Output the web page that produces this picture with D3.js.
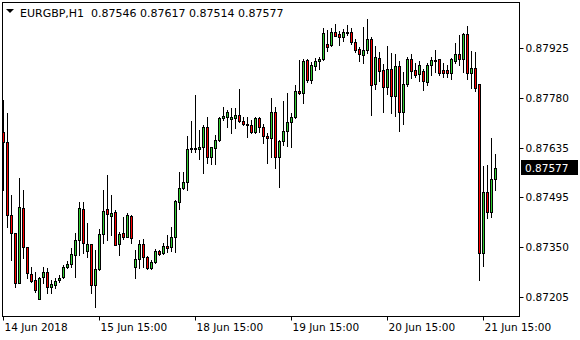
<!DOCTYPE html>
<html>
<head>
<meta charset="utf-8">
<script src="https://cdn.jsdelivr.net/npm/d3@7"></script>
<style>
  html, body { margin: 0; padding: 0; background: #fff; }
  svg { display: block; }
  text { font-family: "DejaVu Sans", Verdana, sans-serif; font-size: 10.5px; fill: #000; }
</style>
</head>
<body>
<div id="chart"></div>
<script>
var symbol = "EURGBP,H1";

// hourly bars, 14 Jun 2018 15:00 -> 21 Jun 2018 18:00
var open = [0.87681,0.87652,0.87442,0.87390,0.87245,0.87462,0.87349,0.87271,0.87254,0.87199,
  0.87263,0.87277,0.87234,0.87240,0.87254,0.87263,0.87292,0.87300,0.87326,0.87369,
  0.87459,0.87338,0.87358,0.87240,0.87286,0.87387,0.87459,0.87439,0.87450,0.87358,
  0.87390,0.87378,0.87439,0.87292,0.87315,0.87358,0.87320,0.87289,0.87306,0.87338,
  0.87332,0.87352,0.87349,0.87378,0.87479,0.87520,0.87537,0.87632,0.87635,0.87632,
  0.87638,0.87696,0.87609,0.87635,0.87658,0.87722,0.87724,0.87719,0.87722,0.87730,
  0.87713,0.87704,0.87701,0.87681,0.87722,0.87696,0.87670,0.87664,0.87739,0.87609,
  0.87655,0.87684,0.87710,0.87724,0.87799,0.87794,0.87889,0.87831,0.87872,0.87886,
  0.87892,0.87935,0.87932,0.87970,0.87964,0.87955,0.87970,0.87970,0.87941,0.87921,
  0.87903,0.87918,0.87950,0.87820,0.87895,0.87860,0.87811,0.87863,0.87785,0.87872,
  0.87739,0.87820,0.87892,0.87860,0.87849,0.87857,0.87825,0.87874,0.87889,0.87892,
  0.87860,0.87860,0.87851,0.87886,0.87906,0.87892,0.87964,0.87851,0.87866,0.87820,
  0.87332,0.87508,0.87450,0.87546];
var high = [0.87773,0.87736,0.87499,0.87390,0.87548,0.87514,0.87349,0.87292,0.87277,0.87263,
  0.87292,0.87289,0.87254,0.87260,0.87269,0.87297,0.87309,0.87346,0.87390,0.87479,
  0.87479,0.87419,0.87358,0.87341,0.87401,0.87514,0.87557,0.87499,0.87456,0.87393,
  0.87436,0.87447,0.87442,0.87341,0.87369,0.87372,0.87323,0.87312,0.87344,0.87341,
  0.87361,0.87384,0.87407,0.87485,0.87566,0.87566,0.87670,0.87713,0.87788,0.87687,
  0.87701,0.87724,0.87638,0.87673,0.87724,0.87753,0.87745,0.87750,0.87750,0.87805,
  0.87724,0.87724,0.87716,0.87724,0.87724,0.87704,0.87678,0.87779,0.87753,0.87658,
  0.87771,0.87794,0.87736,0.87817,0.87889,0.87892,0.87892,0.87883,0.87895,0.87898,
  0.87981,0.87976,0.87981,0.87993,0.87973,0.87978,0.87990,0.87981,0.87950,0.87926,
  0.87984,0.88007,0.87955,0.87929,0.87912,0.87877,0.87929,0.87909,0.87906,0.87886,
  0.87854,0.87898,0.87906,0.87880,0.87886,0.87863,0.87880,0.87898,0.87918,0.87892,
  0.87880,0.87874,0.87895,0.87938,0.87961,0.87967,0.87987,0.87915,0.87912,0.87820,
  0.87583,0.87586,0.87664,0.87617];
var low = [0.87514,0.87407,0.87312,0.87234,0.87245,0.87318,0.87260,0.87248,0.87219,0.87199,
  0.87245,0.87217,0.87217,0.87231,0.87248,0.87260,0.87289,0.87292,0.87263,0.87326,
  0.87332,0.87320,0.87217,0.87176,0.87283,0.87361,0.87369,0.87384,0.87355,0.87326,
  0.87372,0.87378,0.87361,0.87260,0.87289,0.87292,0.87286,0.87286,0.87303,0.87326,
  0.87329,0.87335,0.87338,0.87335,0.87459,0.87517,0.87514,0.87623,0.87623,0.87603,
  0.87563,0.87592,0.87589,0.87589,0.87655,0.87716,0.87696,0.87678,0.87693,0.87710,
  0.87701,0.87667,0.87678,0.87678,0.87681,0.87649,0.87592,0.87609,0.87577,0.87522,
  0.87644,0.87641,0.87638,0.87722,0.87791,0.87765,0.87825,0.87823,0.87860,0.87863,
  0.87889,0.87915,0.87929,0.87958,0.87932,0.87944,0.87961,0.87935,0.87912,0.87886,
  0.87880,0.87909,0.87730,0.87805,0.87828,0.87739,0.87791,0.87736,0.87727,0.87684,
  0.87704,0.87814,0.87837,0.87840,0.87828,0.87802,0.87817,0.87846,0.87854,0.87846,
  0.87840,0.87840,0.87834,0.87880,0.87874,0.87854,0.87834,0.87808,0.87800,0.87254,
  0.87295,0.87433,0.87436,0.87514];
var close = [0.87652,0.87442,0.87390,0.87245,0.87465,0.87349,0.87274,0.87251,0.87225,0.87260,
  0.87277,0.87234,0.87243,0.87251,0.87260,0.87292,0.87300,0.87329,0.87369,0.87462,
  0.87361,0.87358,0.87240,0.87286,0.87387,0.87453,0.87445,0.87447,0.87355,0.87387,
  0.87378,0.87442,0.87375,0.87315,0.87358,0.87320,0.87289,0.87306,0.87338,0.87329,
  0.87352,0.87346,0.87378,0.87482,0.87520,0.87537,0.87632,0.87635,0.87632,0.87638,
  0.87696,0.87609,0.87638,0.87658,0.87722,0.87727,0.87739,0.87724,0.87730,0.87713,
  0.87704,0.87701,0.87681,0.87722,0.87696,0.87670,0.87664,0.87739,0.87609,0.87655,
  0.87684,0.87710,0.87724,0.87799,0.87794,0.87886,0.87831,0.87874,0.87886,0.87892,
  0.87967,0.87926,0.87970,0.87958,0.87955,0.87970,0.87967,0.87941,0.87918,0.87906,
  0.87918,0.87950,0.87817,0.87898,0.87857,0.87811,0.87863,0.87785,0.87872,0.87739,
  0.87820,0.87892,0.87857,0.87846,0.87874,0.87828,0.87874,0.87889,0.87886,0.87851,
  0.87851,0.87851,0.87892,0.87906,0.87892,0.87964,0.87851,0.87866,0.87808,0.87332,
  0.87508,0.87450,0.87546,0.87577];

var timeLabels = ["14 Jun 2018", "15 Jun 15:00", "18 Jun 15:00", "19 Jun 15:00", "20 Jun 15:00", "21 Jun 15:00"];
var timeTickBars = [0, 24, 48, 72, 96, 120];
var priceTicks = [0.87205, 0.87350, 0.87495, 0.87635, 0.87780, 0.87925];

var W = 580, H = 340;
var M = {t: 2, r: 61, b: 24, l: 2};
var plotR = W - M.r, plotB = H - M.b;

var svg = d3.select("#chart").append("svg")
  .attr("width", W)
  .attr("height", H);

var n = close.length;
var scaleX = d3.scaleLinear()
  .domain([0, n - 1])
  .range([3, 3 + (n - 1) * 4]);

var scaleY = d3.scaleLinear()
  .domain([0.871502, 0.880564])
  .range([plotB, M.t]);

var px = function(v) { return Math.round(v) + 0.5; };

// frame
svg.append("rect")
  .attr("x", M.l + 0.5).attr("y", M.t + 0.5)
  .attr("width", plotR - M.l).attr("height", plotB - M.t)
  .attr("fill", "none").attr("stroke", "#000");

// price axis (right)
var axisY = d3.axisRight(scaleY)
  .tickValues(priceTicks)
  .tickSize(4)
  .tickPadding(2)
  .tickFormat(d3.format(".5f"));

var gy = svg.append("g")
  .attr("transform", "translate(" + (plotR + 0.5) + ",0)")
  .call(axisY);
gy.select(".domain").remove();
gy.selectAll(".tick").attr("transform", function(d) { return "translate(0," + px(scaleY(d)) + ")"; });
gy.selectAll("text").attr("font-family", null).attr("font-size", null);

// time axis (bottom)
var axisX = d3.axisBottom(scaleX)
  .tickValues(timeTickBars)
  .tickSize(4)
  .tickPadding(3)
  .tickFormat(function(d, i) { return timeLabels[i]; });

var gx = svg.append("g")
  .attr("transform", "translate(0," + (plotB + 0.5) + ")")
  .call(axisX);
gx.select(".domain").remove();
gx.selectAll(".tick").attr("transform", function(d) { return "translate(" + px(scaleX(d)) + ",0)"; });
gx.selectAll("text").attr("font-family", null).attr("font-size", null)
  .attr("text-anchor", "start").attr("x", 1);

// candles
var idx = d3.range(n);
var candles = svg.append("g").attr("class", "candles");

candles.selectAll(".wick").data(idx).enter().append("line")
  .attr("x1", function(i) { return px(scaleX(i)); })
  .attr("x2", function(i) { return px(scaleX(i)); })
  .attr("y1", function(i) { return Math.round(scaleY(high[i])); })
  .attr("y2", function(i) { return Math.round(scaleY(low[i])) + 1; })
  .attr("stroke", "#000");

candles.selectAll(".body").data(idx).enter().append("rect")
  .attr("x", function(i) { return Math.round(scaleX(i)) - 0.5; })
  .attr("y", function(i) { return px(scaleY(Math.max(open[i], close[i]))); })
  .attr("width", 2)
  .attr("height", function(i) {
    return Math.round(scaleY(Math.min(open[i], close[i]))) - Math.round(scaleY(Math.max(open[i], close[i])));
  })
  .attr("fill", function(i) { return close[i] >= open[i] ? "#32cd32" : "#ff0000"; })
  .attr("stroke", "#000");

// last price marker
var last = close[n - 1];
var ly = Math.round(scaleY(last));
svg.append("rect")
  .attr("x", plotR + 2).attr("y", ly - 8)
  .attr("width", 57).attr("height", 15)
  .attr("fill", "#000");
svg.append("text")
  .attr("x", plotR + 6).attr("y", ly + 4)
  .style("fill", "#fff")
  .text(d3.format(".5f")(last));

// header
svg.append("path")
  .attr("d", "M6,9 L14,9 L10,13 Z")
  .attr("fill", "#000");
svg.append("text")
  .attr("x", 20).attr("y", 17)
  .style("font-size", "11px")
  .text(symbol + "  " + [open[n - 1], high[n - 1], low[n - 1], close[n - 1]].map(d3.format(".5f")).join(" "))
  .attr("xml:space", "preserve");
</script>
</body>
</html>
